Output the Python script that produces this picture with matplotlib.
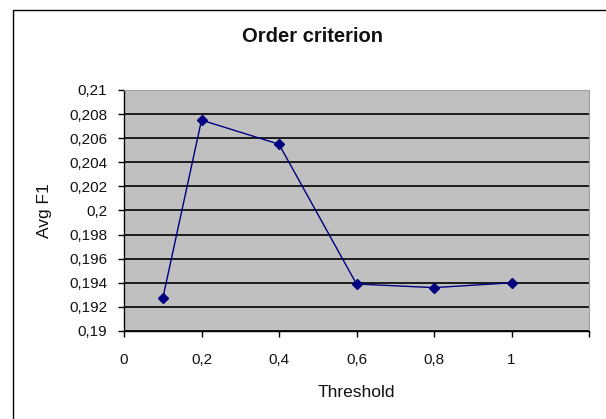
import matplotlib
matplotlib.use("Agg")
import matplotlib.pyplot as plt
from matplotlib.patches import Rectangle
from matplotlib.ticker import FuncFormatter, MultipleLocator

thresholds = [0.1, 0.2, 0.4, 0.6, 0.8, 1.0]
avg_f1 = [0.1927, 0.2075, 0.2055, 0.1939, 0.1936, 0.1940]

title = "Order criterion"
xlabel = "Threshold"
ylabel = "Avg F1"

plt.rcParams['font.family'] = ['Liberation Sans', 'DejaVu Sans']

fig = plt.figure(figsize=(6.06, 4.19), dpi=100)
fig.patch.set_facecolor('white')
ax = fig.add_axes([124/606, 1-331/419, (589-124)/606, (331-90)/419])
ax.set_facecolor('#C0C0C0')

ax.set_xlim(0, 1.2)
ax.set_ylim(0.19, 0.21)
ax.xaxis.set_major_locator(MultipleLocator(0.2))
ax.yaxis.set_major_locator(MultipleLocator(0.002))

def yfmt(v, pos):
    s = ('%.3f' % v).rstrip('0').rstrip('.')
    return s.replace('.', ',')

def xfmt(v, pos):
    if v > 1.05:
        return ''
    s = ('%.1f' % v).rstrip('0').rstrip('.')
    return s.replace('.', ',')

ax.yaxis.set_major_formatter(FuncFormatter(yfmt))
ax.xaxis.set_major_formatter(FuncFormatter(xfmt))

ax.yaxis.grid(True, color='black', linewidth=1.2)
ax.set_axisbelow(True)

ax.plot(thresholds, avg_f1, color='#000080', linewidth=1.0, marker='D',
        markersize=5, markerfacecolor='#000080', markeredgecolor='#000080', zorder=3)

for side in ['top', 'right']:
    ax.spines[side].set_color('#A0A0A0')
    ax.spines[side].set_linewidth(0.8)
for side in ['left', 'bottom']:
    ax.spines[side].set_color('black')
    ax.spines[side].set_linewidth(1.0)

ax.tick_params(axis='both', direction='out', length=4, width=1, color='black',
               labelsize=11, labelcolor='#111111')
ax.tick_params(axis='y', pad=8)
ax.tick_params(axis='x', pad=12)

ax.set_xlabel(xlabel, fontsize=12.5, va='center', color='#111111')
ax.xaxis.set_label_coords(0.5, (331-392)/241)
ax.set_ylabel(ylabel, fontsize=12.5, va='center', color='#111111')
ax.yaxis.set_label_coords((44-124)/465, 0.5)

fig.text(313/606, 1-37/419, title, ha='center', va='center',
         fontsize=14.5, fontweight='bold', color='#111111')

fig.patches.append(Rectangle((13/606, -0.05), 1.1, 1-10/419+0.05,
                             transform=fig.transFigure, fill=False,
                             edgecolor='black', linewidth=1.0))

fig.savefig('out.png', dpi=100)
